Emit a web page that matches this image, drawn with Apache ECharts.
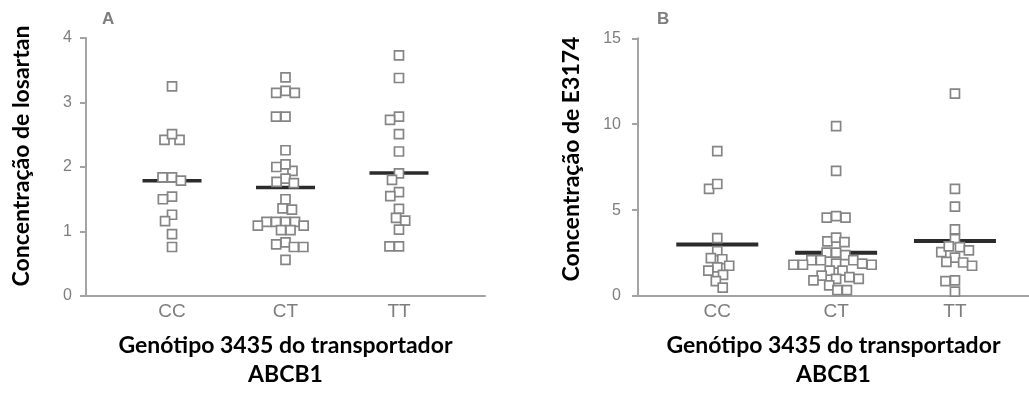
<!DOCTYPE html>
<html>
<head>
<meta charset="utf-8">
<script src="https://cdn.jsdelivr.net/npm/echarts@6/dist/echarts.min.js"></script>
<style>
  html, body { margin: 0; padding: 0; background: #fff; }
  #chart { width: 1029px; height: 394px; }
</style>
</head>
<body>
<div id="chart"></div>
<script>
// Genotype groups on the x axis
const categories = ['CC', 'CT', 'TT'];

// Panel A: losartan concentration per subject
const losartanCC = [3.25, 2.42, 2.42, 2.51, 1.84, 1.79, 1.84, 1.54, 1.50, 1.26, 1.16, 0.96, 0.76];
const losartanCT = [3.39, 3.18, 3.15, 3.15, 2.78, 2.78, 2.26, 2.00, 1.94, 2.04, 1.82, 1.75, 1.77,
                    1.50, 1.36, 1.34, 1.15, 1.15, 1.15, 1.15, 1.09, 1.09, 1.02, 1.02, 0.83, 0.76,
                    0.76, 0.80, 0.56];
const losartanTT = [3.73, 3.38, 2.78, 2.73, 2.51, 2.24, 1.90, 1.80, 1.61, 1.55, 1.35, 1.17, 1.21,
                    1.03, 0.77, 0.77];

// Panel B: E3174 concentration per subject
const e3174CC = [8.43, 6.24, 6.52, 3.37, 2.61, 2.14, 2.20, 1.76, 1.67, 1.48, 1.23, 0.87, 0.49];
const e3174CT = [9.89, 7.28, 4.56, 4.56, 4.65, 3.18, 3.40, 3.14, 2.52, 2.52, 2.38, 2.08, 2.08,
                 2.08, 1.89, 1.89, 1.82, 1.82, 1.82, 1.48, 1.48, 1.19, 1.10, 1.00, 1.00, 0.91,
                 0.62, 0.34, 0.34];
const e3174TT = [11.78, 6.24, 5.20, 3.88, 3.31, 2.84, 2.55, 2.65, 2.89, 2.23, 1.95, 1.76, 1.99,
                 0.91, 0.87, 0.25];

const panelLetters = ['A', 'B'];
const yTitles = ['Concentração de losartan', 'Concentração de E3174'];
const xTitle = 'Genótipo 3435 do transportador\nABCB1';

const AXIS_GREY = '#a3a3a3';
const TEXT_GREY = '#7e7e7e';
const BOLD_FONT = 'Lato';

const mean = arr => arr.reduce((s, v) => s + v, 0) / arr.length;

// Beeswarm: place each point as close to the group centre as possible
// while keeping a minimum pixel distance from the points already placed.
function swarmOffsets(ys, size) {
  const order = ys.map((_, i) => i).sort((a, b) => ys[a] - ys[b]);
  const placed = [];
  const off = new Array(ys.length).fill(0);
  for (const i of order) {
    const y = ys[i];
    const cands = [0];
    const blocks = [];
    for (const p of placed) {
      const dy = Math.abs(p.y - y);
      if (dy < size) {
        const h = Math.sqrt(size * size - dy * dy);
        blocks.push([p.x - h, p.x + h]);
        cands.push(p.x - h, p.x + h);
      }
    }
    cands.sort((a, b) => (Math.abs(a) - Math.abs(b)) || (a - b));
    let best = 0;
    for (const c of cands) {
      if (blocks.every(([lo, hi]) => c <= lo + 1e-6 || c >= hi - 1e-6)) { best = c; break; }
    }
    off[i] = best;
    placed.push({ x: best, y });
  }
  return off;
}

function pointSeries(values, groupIndex, axisIndex, name) {
  const gx = groupIndex + 1;
  return {
    type: 'custom',
    name: name,
    xAxisIndex: axisIndex,
    yAxisIndex: axisIndex,
    z: 5,
    data: values.map(v => [gx, v]),
    renderItem: function (params, api) {
      const ys = values.map(v => api.coord([gx, v])[1]);
      const offs = swarmOffsets(ys, 9.5);
      const c = api.coord([api.value(0), api.value(1)]);
      const s = 9;
      return {
        type: 'rect',
        shape: { x: c[0] + offs[params.dataIndex] - s / 2, y: c[1] - s / 2, width: s, height: s },
        style: { fill: '#ffffff', stroke: '#858585', lineWidth: 1.7 }
      };
    }
  };
}

function meanSeries(groups, axisIndex, halfWidth, thickness) {
  return {
    type: 'custom',
    xAxisIndex: axisIndex,
    yAxisIndex: axisIndex,
    z: 3,
    data: groups.map((g, i) => [i + 1, mean(g)]),
    renderItem: function (params, api) {
      const c = api.coord([api.value(0), api.value(1)]);
      return {
        type: 'line',
        shape: { x1: c[0] - halfWidth, y1: c[1], x2: c[0] + halfWidth, y2: c[1] },
        style: { stroke: '#2b2b2b', lineWidth: thickness }
      };
    }
  };
}

function xAxisFor(gridIndex, min, max) {
  return {
    gridIndex: gridIndex,
    type: 'value',
    min: min,
    max: max,
    splitLine: { show: false },
    axisTick: { show: false },
    axisLine: { show: true, onZero: false, lineStyle: { color: AXIS_GREY, width: 2 } },
    axisLabel: {
      customValues: [1, 2, 3],
      formatter: v => categories[Math.round(v) - 1] || '',
      color: TEXT_GREY,
      fontFamily: 'Liberation Sans',
      fontSize: 19,
      margin: 6
    },
    name: xTitle,
    nameLocation: 'middle',
    nameGap: 35,
    nameTextStyle: {
      color: '#000',
      fontFamily: BOLD_FONT,
      fontWeight: 'bold',
      fontSize: 23,
      lineHeight: 29
    }
  };
}

function yAxisFor(gridIndex, max, interval, margin) {
  return {
    gridIndex: gridIndex,
    type: 'value',
    min: 0,
    max: max,
    interval: interval,
    splitLine: { show: false },
    axisLine: { show: true, onZero: false, lineStyle: { color: AXIS_GREY, width: 2 } },
    axisTick: { show: true, length: 6, lineStyle: { color: AXIS_GREY, width: 2 } },
    axisLabel: { color: TEXT_GREY, fontFamily: 'Liberation Sans', fontSize: 16, margin: margin }
  };
}

const chart = echarts.init(document.getElementById('chart'), null, { renderer: 'canvas' });

chart.setOption({
  animation: false,
  backgroundColor: '#ffffff',
  grid: [
    { left: 86, top: 38, width: 399, height: 264.7 },
    { left: 638, top: 38.3, width: 391, height: 264.4 }
  ],
  xAxis: [xAxisFor(0, 0.242, 3.758), xAxisFor(1, 0.333, 3.623)],
  yAxis: [yAxisFor(0, 4, 1, 14), yAxisFor(1, 15, 5, 17)],
  graphic: [
    { type: 'text', left: 102, top: 11,
      style: { text: panelLetters[0], fill: TEXT_GREY, font: 'bold 17px "Liberation Sans"' } },
    { type: 'text', left: 657, top: 11,
      style: { text: panelLetters[1], fill: TEXT_GREY, font: 'bold 17px "Liberation Sans"' } },
    { type: 'text', x: 22, y: 156, rotation: Math.PI / 2,
      style: { text: yTitles[0], fill: '#000', font: 'bold 23px ' + BOLD_FONT,
               textAlign: 'center', textVerticalAlign: 'middle' } },
    { type: 'text', x: 572, y: 159, rotation: Math.PI / 2,
      style: { text: yTitles[1], fill: '#000', font: 'bold 23px ' + BOLD_FONT,
               textAlign: 'center', textVerticalAlign: 'middle' } }
  ],
  series: [
    meanSeries([losartanCC, losartanCT, losartanTT], 0, 29.5, 3.5),
    pointSeries(losartanCC, 0, 0, 'CC'),
    pointSeries(losartanCT, 1, 0, 'CT'),
    pointSeries(losartanTT, 2, 0, 'TT'),
    meanSeries([e3174CC, e3174CT, e3174TT], 1, 41, 4),
    pointSeries(e3174CC, 0, 1, 'CC'),
    pointSeries(e3174CT, 1, 1, 'CT'),
    pointSeries(e3174TT, 2, 1, 'TT')
  ]
});
</script>
</body>
</html>
